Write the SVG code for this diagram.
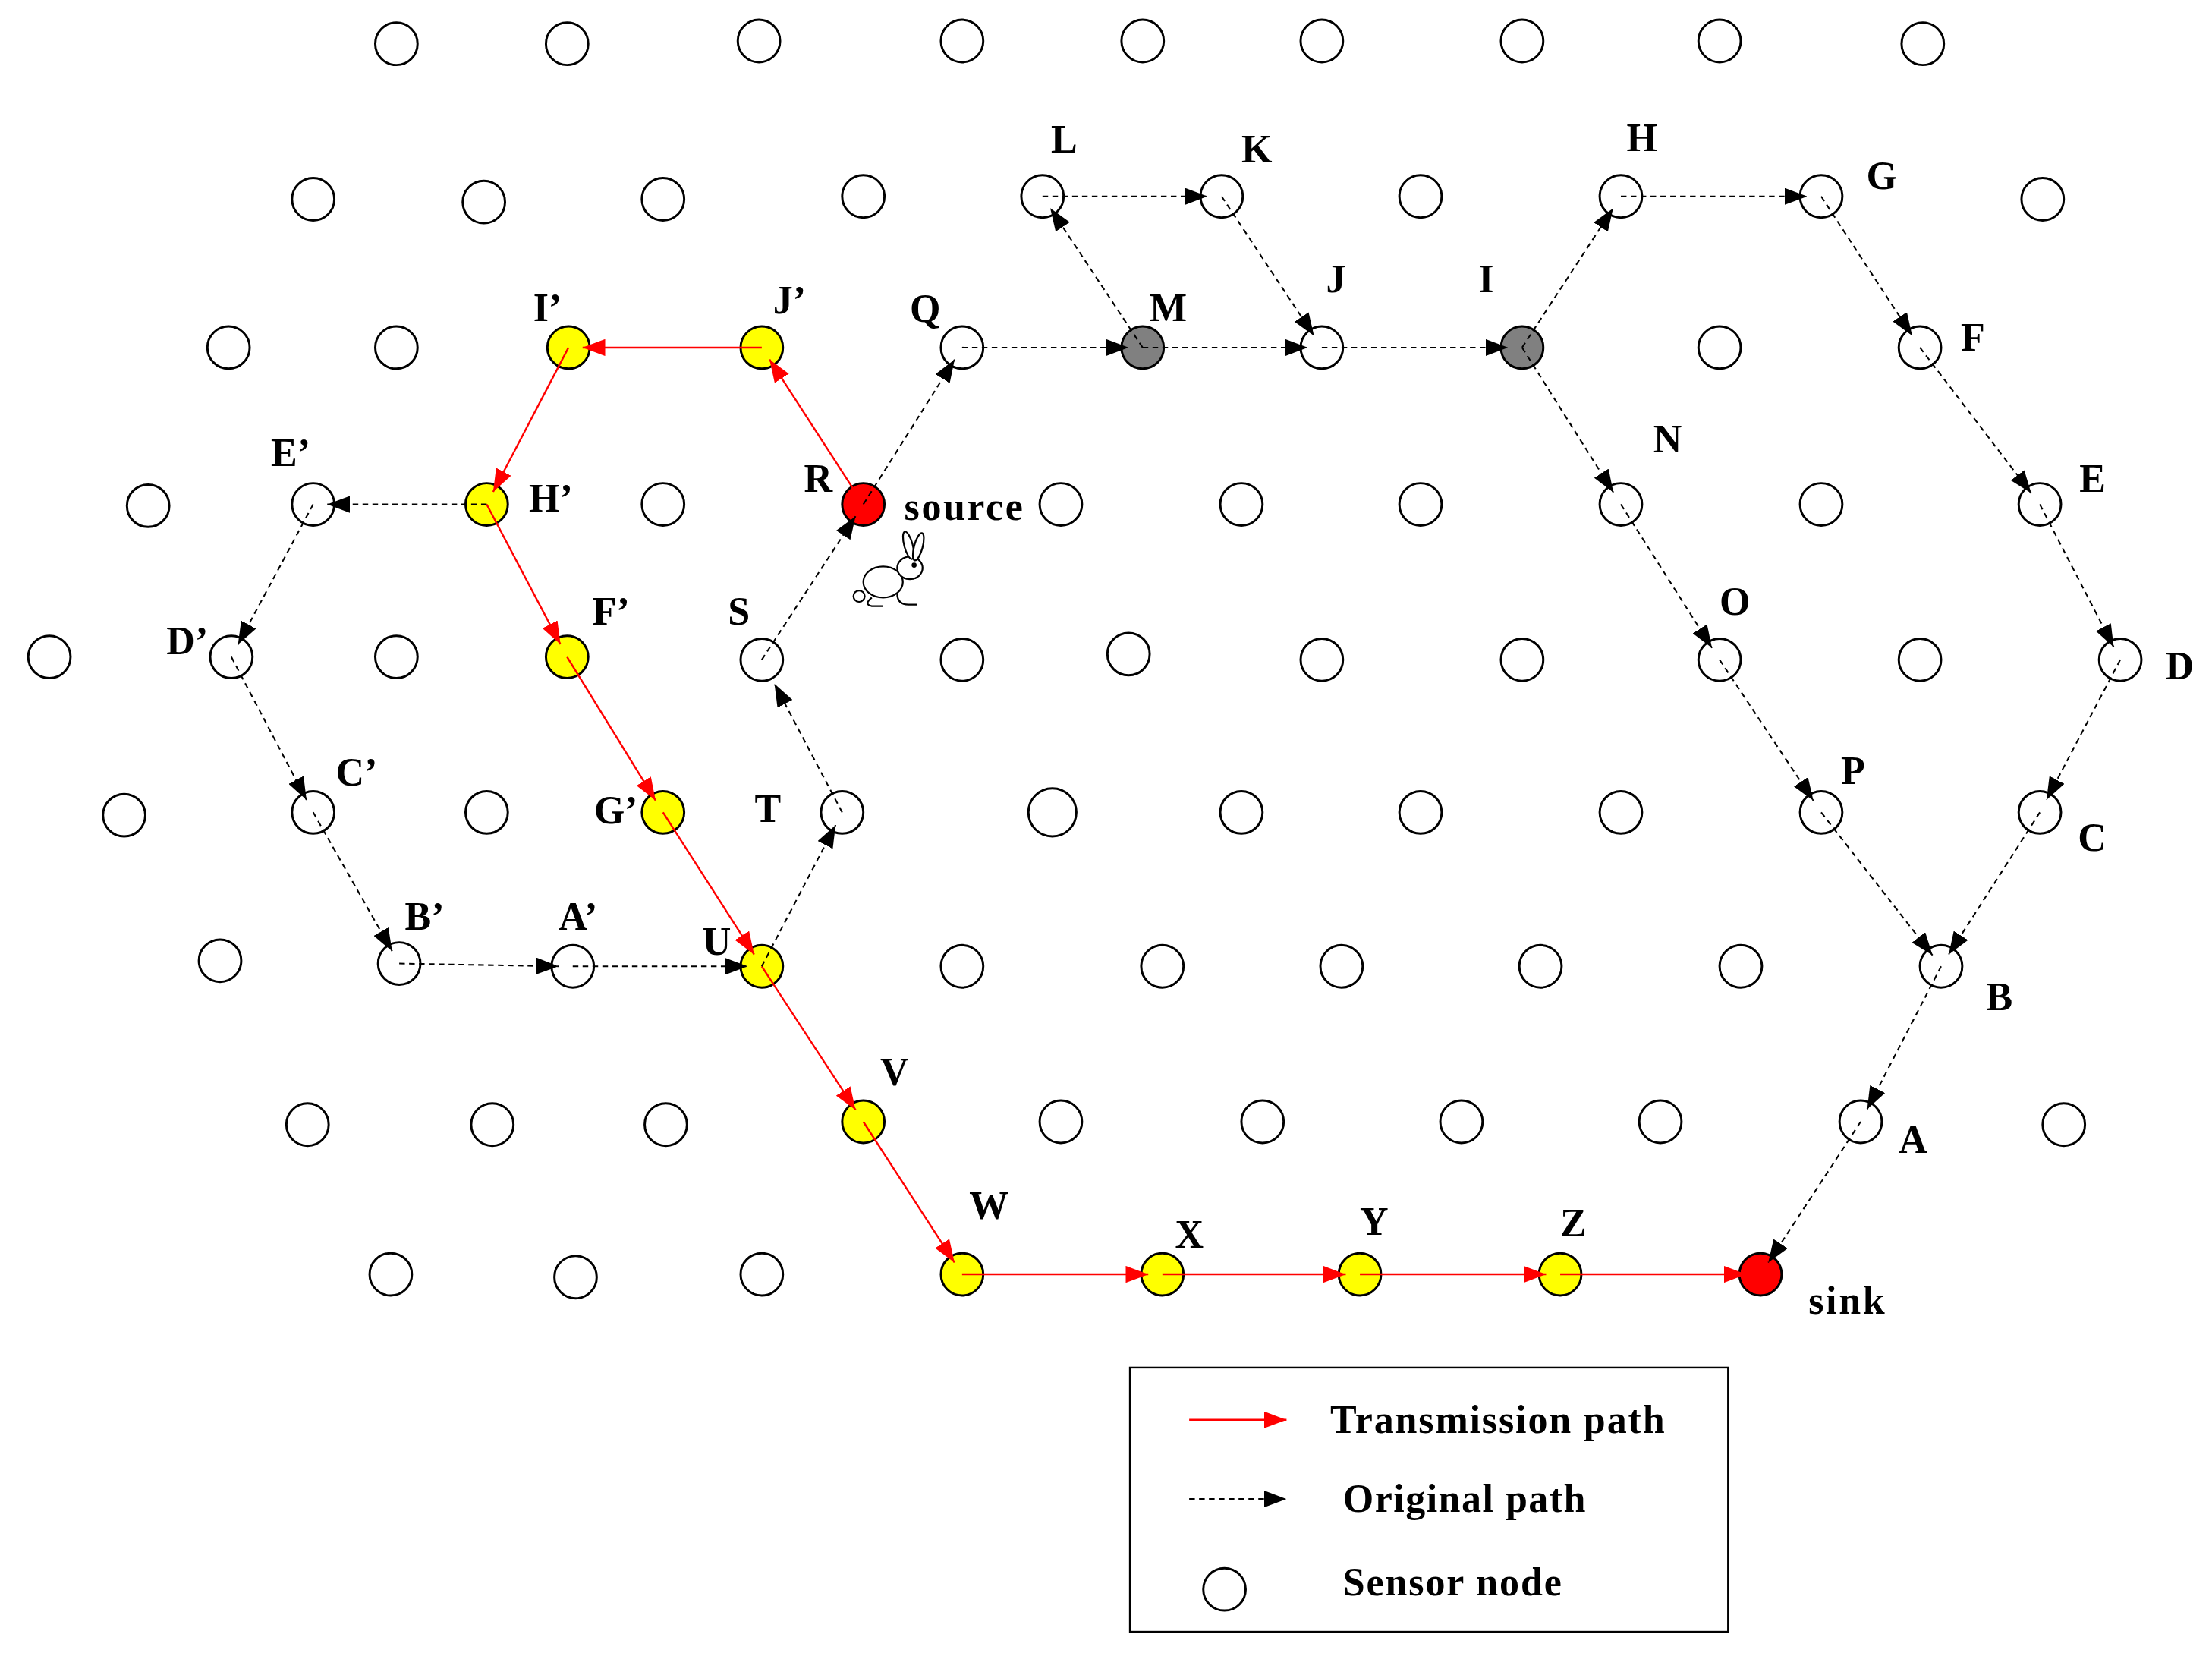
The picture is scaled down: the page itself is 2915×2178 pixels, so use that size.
<svg xmlns="http://www.w3.org/2000/svg" width="2915" height="2178" viewBox="0 0 2915 2178">
<style>
.n{fill:#fff;stroke:#000;stroke-width:1.6}
.y{fill:#ffff00}.r{fill:#ff0000}.g{fill:#808080}
.red{stroke:#ff0000;stroke-width:1.3;fill:none}
.blk{stroke:#000;stroke-width:1.1;stroke-dasharray:4,3;fill:none}
text{font-family:"Liberation Serif",serif;font-weight:bold;font-size:28px;fill:#000}
</style>
<defs>
<marker id="ar" viewBox="0 -6 16 12" refX="16" refY="0" markerWidth="16" markerHeight="12" markerUnits="userSpaceOnUse" orient="auto"><path d="M0,-6L16,0L0,6z" fill="#ff0000"/></marker>
<marker id="ab" viewBox="0 -6 16 12" refX="16" refY="0" markerWidth="16" markerHeight="12" markerUnits="userSpaceOnUse" orient="auto"><path d="M0,-6L16,0L0,6z" fill="#000"/></marker>
</defs>
<rect width="2915" height="2178" fill="#fff"/>
<g transform="scale(1.859,1.8615)">
<g id="nodes">
<circle class="n" cx="281" cy="31" r="15"/><circle class="n" cx="402" cy="31" r="15"/><circle class="n" cx="538" cy="29" r="15"/><circle class="n" cx="682" cy="29" r="15"/><circle class="n" cx="810" cy="29" r="15"/><circle class="n" cx="937" cy="29" r="15"/><circle class="n" cx="1079" cy="29" r="15"/><circle class="n" cx="1219" cy="29" r="15"/><circle class="n" cx="1363" cy="31" r="15"/>
<circle class="n" cx="222" cy="141" r="15"/><circle class="n" cx="343" cy="143" r="15"/><circle class="n" cx="470" cy="141" r="15"/><circle class="n" cx="612" cy="139" r="15"/><circle class="n" cx="739" cy="139" r="15"/><circle class="n" cx="866" cy="139" r="15"/><circle class="n" cx="1007" cy="139" r="15"/><circle class="n" cx="1149" cy="139" r="15"/><circle class="n" cx="1291" cy="139" r="15"/><circle class="n" cx="1448" cy="141" r="15"/>
<circle class="n" cx="162" cy="246" r="15"/><circle class="n" cx="281" cy="246" r="15"/><circle class="n y" cx="403" cy="246" r="15"/><circle class="n y" cx="540" cy="246" r="15"/><circle class="n" cx="682" cy="246" r="15"/><circle class="n g" cx="810" cy="246" r="15"/><circle class="n" cx="937" cy="246" r="15"/><circle class="n g" cx="1079" cy="246" r="15"/><circle class="n" cx="1219" cy="246" r="15"/><circle class="n" cx="1361" cy="246" r="15"/>
<circle class="n" cx="105" cy="358" r="15"/><circle class="n" cx="222" cy="357" r="15"/><circle class="n y" cx="345" cy="357" r="15"/><circle class="n" cx="470" cy="357" r="15"/><circle class="n r" cx="612" cy="357" r="15"/><circle class="n" cx="752" cy="357" r="15"/><circle class="n" cx="880" cy="357" r="15"/><circle class="n" cx="1007" cy="357" r="15"/><circle class="n" cx="1149" cy="357" r="15"/><circle class="n" cx="1291" cy="357" r="15"/><circle class="n" cx="1446" cy="357" r="15"/>
<circle class="n" cx="35" cy="465" r="15"/><circle class="n" cx="164" cy="465" r="15"/><circle class="n" cx="281" cy="465" r="15"/><circle class="n y" cx="402" cy="465" r="15"/><circle class="n" cx="540" cy="467" r="15"/><circle class="n" cx="682" cy="467" r="15"/><circle class="n" cx="800" cy="463" r="15"/><circle class="n" cx="937" cy="467" r="15"/><circle class="n" cx="1079" cy="467" r="15"/><circle class="n" cx="1219" cy="467" r="15"/><circle class="n" cx="1361" cy="467" r="15"/><circle class="n" cx="1503" cy="467" r="15"/>
<circle class="n" cx="88" cy="577" r="15"/><circle class="n" cx="222" cy="575" r="15"/><circle class="n" cx="345" cy="575" r="15"/><circle class="n y" cx="470" cy="575" r="15"/><circle class="n" cx="597" cy="575" r="15"/><circle class="n" cx="746" cy="575" r="17"/><circle class="n" cx="880" cy="575" r="15"/><circle class="n" cx="1007" cy="575" r="15"/><circle class="n" cx="1149" cy="575" r="15"/><circle class="n" cx="1291" cy="575" r="15"/><circle class="n" cx="1446" cy="575" r="15"/>
<circle class="n" cx="156" cy="680" r="15"/><circle class="n" cx="283" cy="682" r="15"/><circle class="n" cx="406" cy="684" r="15"/><circle class="n y" cx="540" cy="684" r="15"/><circle class="n" cx="682" cy="684" r="15"/><circle class="n" cx="824" cy="684" r="15"/><circle class="n" cx="951" cy="684" r="15"/><circle class="n" cx="1092" cy="684" r="15"/><circle class="n" cx="1234" cy="684" r="15"/><circle class="n" cx="1376" cy="684" r="15"/>
<circle class="n" cx="218" cy="796" r="15"/><circle class="n" cx="349" cy="796" r="15"/><circle class="n" cx="472" cy="796" r="15"/><circle class="n y" cx="612" cy="794" r="15"/><circle class="n" cx="752" cy="794" r="15"/><circle class="n" cx="895" cy="794" r="15"/><circle class="n" cx="1036" cy="794" r="15"/><circle class="n" cx="1177" cy="794" r="15"/><circle class="n" cx="1319" cy="794" r="15"/><circle class="n" cx="1463" cy="796" r="15"/>
<circle class="n" cx="277" cy="902" r="15"/><circle class="n" cx="408" cy="904" r="15"/><circle class="n" cx="540" cy="902" r="15"/><circle class="n y" cx="682" cy="902" r="15"/><circle class="n y" cx="824" cy="902" r="15"/><circle class="n y" cx="964" cy="902" r="15"/><circle class="n y" cx="1106" cy="902" r="15"/><circle class="n r" cx="1248" cy="902" r="15"/>
</g>
<g id="connectors">
<g class="red" marker-end="url(#ar)">
<line x1="612" y1="357" x2="545.5" y2="254.4"/><line x1="540" y1="246" x2="413" y2="246"/><line x1="403" y1="246" x2="349.6" y2="348.1"/><line x1="345" y1="357" x2="397.3" y2="456.1"/><line x1="402" y1="465" x2="464.7" y2="566.5"/><line x1="470" y1="575" x2="534.6" y2="675.6"/><line x1="540" y1="684" x2="606.5" y2="785.6"/><line x1="612" y1="794" x2="676.6" y2="893.6"/><line x1="682" y1="902" x2="814" y2="902"/><line x1="824" y1="902" x2="954" y2="902"/><line x1="964" y1="902" x2="1096" y2="902"/><line x1="1106" y1="902" x2="1238" y2="902"/>
</g>
<g class="blk" marker-end="url(#ab)">
<line x1="540" y1="467" x2="606.5" y2="365.4"/><line x1="612" y1="357" x2="676.7" y2="254.5"/><line x1="682" y1="246" x2="800" y2="246"/><line x1="810" y1="246" x2="927" y2="246"/><line x1="937" y1="246" x2="1069" y2="246"/><line x1="810" y1="246" x2="744.5" y2="147.3"/><line x1="739" y1="139" x2="856" y2="139"/><line x1="866" y1="139" x2="931.5" y2="237.7"/><line x1="1079" y1="246" x2="1143.5" y2="147.4"/><line x1="1149" y1="139" x2="1281" y2="139"/><line x1="1291" y1="139" x2="1355.5" y2="237.6"/><line x1="1361" y1="246" x2="1439.9" y2="349.1"/><line x1="1446" y1="357" x2="1498.4" y2="458.1"/><line x1="1503" y1="467" x2="1450.7" y2="566.2"/><line x1="1446" y1="575" x2="1381.4" y2="675.6"/><line x1="1376" y1="684" x2="1323.6" y2="785.1"/><line x1="1319" y1="794" x2="1253.5" y2="893.7"/><line x1="1079" y1="246" x2="1143.7" y2="348.5"/><line x1="1149" y1="357" x2="1213.6" y2="458.6"/><line x1="1219" y1="467" x2="1285.5" y2="566.7"/><line x1="1291" y1="575" x2="1369.9" y2="676.1"/><line x1="540" y1="684" x2="592.4" y2="583.9"/><line x1="597" y1="575" x2="549" y2="484"/><line x1="406" y1="684" x2="530" y2="684"/><line x1="283" y1="682" x2="396" y2="684"/><line x1="222" y1="575" x2="278" y2="673.3"/><line x1="164" y1="465" x2="217.3" y2="566.2"/><line x1="222" y1="357" x2="168.7" y2="456.2"/><line x1="345" y1="357" x2="232" y2="357"/>
</g>
</g>
<g id="labels">
<text x="745" y="108">L</text><text x="880" y="115">K</text><text x="1153" y="107">H</text><text x="1323" y="134">G</text>
<text x="378" y="227">I’</text><text x="548" y="222">J’</text><text x="645" y="228">Q</text><text x="815" y="227">M</text><text x="940" y="207">J</text><text x="1048" y="207">I</text><text x="1390" y="248">F</text>
<text x="192" y="330">E’</text><text x="375" y="362">H’</text><text x="570" y="348">R</text><text x="641" y="368" textLength="84">source</text><text x="1172" y="320">N</text><text x="1474" y="348">E</text>
<text x="118" y="463">D’</text><text x="420" y="442">F’</text><text x="516" y="442">S</text><text x="1219" y="435">O</text><text x="1535" y="481">D</text>
<text x="238" y="556">C’</text><text x="421" y="583">G’</text><text x="535" y="582">T</text><text x="1305" y="555">P</text><text x="1473" y="602">C</text>
<text x="287" y="658">B’</text><text x="396" y="658">A’</text><text x="498" y="676">U</text><text x="1408" y="715">B</text>
<text x="624" y="768">V</text><text x="1346" y="816">A</text>
<text x="687" y="863">W</text><text x="833" y="883">X</text><text x="964" y="874">Y</text><text x="1106" y="875">Z</text><text x="1282" y="930" textLength="54">sink</text>
</g>
<g id="rabbit" fill="#fff" stroke="#000" stroke-width="1.2">
<ellipse cx="626" cy="412" rx="14" ry="11"/>
<ellipse cx="645" cy="402" rx="9" ry="8"/>
<ellipse cx="644" cy="386" rx="3" ry="10" transform="rotate(-15 644 386)"/>
<ellipse cx="651" cy="387" rx="3" ry="10" transform="rotate(15 651 387)"/>
<circle cx="609" cy="422" r="4"/>
<path d="M618 423 q-6 5 0 6 h8 M636 420 q0 8 8 8 h6"/>
<circle cx="648" cy="400" r="1.2" fill="#000"/>
</g>
<g id="legend">
<rect x="801" y="968" width="424" height="187" fill="none" stroke="#000" stroke-width="1.3"/>
<line class="red" x1="843" y1="1005" x2="912" y2="1005" marker-end="url(#ar)"/>
<text x="943" y="1014" textLength="237">Transmission path</text>
<line class="blk" x1="843" y1="1061" x2="912" y2="1061" marker-end="url(#ab)"/>
<text x="952" y="1070" textLength="172">Original path</text>
<circle class="n" cx="868" cy="1125" r="15"/>
<text x="952" y="1129" textLength="155">Sensor node</text>
</g>
</g>
</svg>
